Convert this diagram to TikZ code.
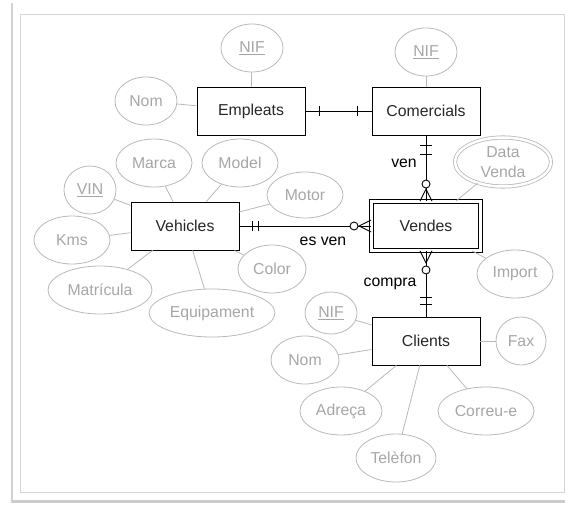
\documentclass[tikz,border=0pt]{standalone}
\usepackage{fontspec}
\setmainfont{Liberation Sans}
\usepackage{xcolor}
\usepackage{tikz}
\usetikzlibrary{arrows.meta,positioning,shapes.geometric,calc}
\definecolor{attrgray}{HTML}{A6A6A6}
\definecolor{linegray}{HTML}{B8B8B8}
\definecolor{framegray}{HTML}{D6D6D6}

\begin{document}
\begin{tikzpicture}[x=1pt,y=-1pt,>=Latex,font=\fontsize{15.8}{19.5}\selectfont]
  \tikzstyle{ent}=[rectangle,draw,line width=0.9pt,minimum width=108pt,minimum height=48pt,inner sep=0pt,text=black!85]
  \tikzstyle{attr}=[ellipse,draw=linegray,text=attrgray,line width=0.8pt,minimum height=48pt,inner sep=0pt]
  \tikzstyle{lnk}=[draw=linegray,line width=0.8pt]
  \tikzstyle{rel}=[line width=0.9pt]
  \useasboundingbox (0,0) rectangle (565,505);

  \draw[framegray,line width=0.8pt] (20,14) rectangle (564,492);
  \draw[black!18,line width=1.5pt] (12,3) -- (12,503);
  \draw[black!20,line width=3pt] (12,501) -- (565,501);

  \node[ent] (emp) at (251,111) {Empleats};
  \node[ent] (com) at (426,111) {Comercials};
  \node[ent] (veh) at (185,226) {Vehicles};
  \node[ent,double,double distance=3pt,minimum width=109pt,minimum height=49pt] (ven) at (426,226) {Vendes};
  \node[ent] (cli) at (426,341) {Clients};

  \node[attr,minimum width=62pt] (nifE) at (252,48) {\underline{NIF}};
  \node[attr,minimum width=62pt] (nomE) at (146,101) {Nom};
  \node[attr,minimum width=62pt] (nifC) at (426,52) {\underline{NIF}};

  \node[attr,minimum width=76pt] (marca) at (154,163) {Marca};
  \node[attr,minimum width=76pt] (model) at (240,163) {Model};
  \node[attr,minimum width=52pt] (vin) at (90,190) {\underline{VIN}};
  \node[attr,minimum width=76pt] (kms) at (72,240) {Kms};
  \node[attr,minimum width=104pt] (matr) at (100,290) {Matrícula};
  \node[attr,minimum width=126pt] (equip) at (212,313) {Equipament};
  \node[attr,minimum width=68pt] (color) at (272,269) {Color};
  \node[attr,minimum width=76pt,minimum height=46pt] (motor) at (305,195) {Motor};

  \node[attr,double,double distance=2.5pt,minimum width=96pt,minimum height=49pt,align=center] (data) at (503,162) {Data\\Venda};
  \node[attr,minimum width=76pt] (imp) at (515,274) {Import};

  \node[attr,minimum width=52pt,minimum height=42pt] (nifK) at (331,313) {\underline{NIF}};
  \node[attr,minimum width=68pt] (nomK) at (305,360) {Nom};
  \node[attr,minimum width=82pt] (adr) at (341,411) {Adreça};
  \node[attr,minimum width=96pt] (corr) at (486,411) {Correu-e};
  \node[attr,minimum width=80pt] (tel) at (396,458) {Telèfon};
  \node[attr,minimum width=50pt] (fax) at (521,341) {Fax};

  \draw[lnk] (nifE) -- (emp);
  \draw[lnk] (nomE) -- (emp);
  \draw[lnk] (nifC) -- (com);
  \draw[lnk] (marca) -- (veh);
  \draw[lnk] (model) -- (veh);
  \draw[lnk] (vin) -- (veh);
  \draw[lnk] (kms) -- (veh);
  \draw[lnk] (matr) -- (veh);
  \draw[lnk] (equip) -- (veh);
  \draw[lnk] (color) -- (veh);
  \draw[lnk] (motor) -- (veh);
  \draw[lnk] (data) -- (ven);
  \draw[lnk] (imp) -- (ven);
  \draw[lnk] (nifK) -- (cli);
  \draw[lnk] (nomK) -- (cli);
  \draw[lnk] (adr) -- (cli);
  \draw[lnk] (corr) -- (cli);
  \draw[lnk] (tel) -- (cli);
  \draw[lnk] (fax) -- (cli);

  \draw[rel] (emp) -- (com);
  \draw[rel] ($(emp.east)+(14,-5)$) -- ++(0,10);
  \draw[rel] ($(com.west)+(-14,-5)$) -- ++(0,10);

  \draw[rel] (com) -- (ven);
  \draw[rel] ($(com.south)+(-6,10)$) -- ++(12,0);
  \draw[rel] ($(com.south)+(-6,19)$) -- ++(12,0);
  \draw[rel] ($(ven.north)+(-6,0)$) -- ($(ven.north)+(0,-12)$) -- ($(ven.north)+(6,0)$);
  \draw[rel,fill=white] ($(ven.north)+(0,-17)$) circle (4pt);
  \node (lven) at (404,163) {ven};

  \draw[rel] (veh) -- (ven);
  \draw[rel] ($(veh.east)+(13,-5)$) -- ++(0,10);
  \draw[rel] ($(veh.east)+(19,-5)$) -- ++(0,10);
  \draw[rel] ($(ven.west)+(0,-6)$) -- ($(ven.west)+(-12,0)$) -- ($(ven.west)+(0,6)$);
  \draw[rel,fill=white] ($(ven.west)+(-17,0)$) circle (4pt);
  \node (lesven) at (323,241) {es ven};

  \draw[rel] (ven) -- (cli);
  \draw[rel] ($(ven.south)+(-6,0)$) -- ($(ven.south)+(0,12)$) -- ($(ven.south)+(6,0)$);
  \draw[rel,fill=white] ($(ven.south)+(0,19)$) circle (4pt);
  \draw[rel] ($(cli.north)+(-6,-19)$) -- ++(12,0);
  \draw[rel] ($(cli.north)+(-6,-12)$) -- ++(12,0);
  \node (lcompra) at (390,284) {compra};
\end{tikzpicture}
\end{document}
